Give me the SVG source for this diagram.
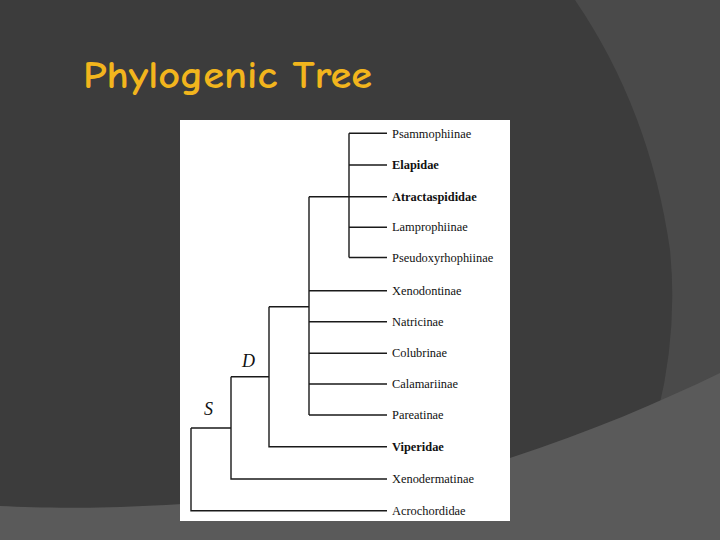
<svg xmlns="http://www.w3.org/2000/svg" width="720" height="540" viewBox="0 0 720 540">
<style>
.lbl{font-family:"Liberation Serif","Times New Roman",serif;font-size:12.4px;fill:#111}
.b{font-weight:bold}
.nd{font-family:"Liberation Serif","Times New Roman",serif;font-style:italic;font-size:18px;fill:#111}
.br{fill:none;stroke:#1a1a1a;stroke-width:1.4}
</style>
<rect width="720" height="540" fill="#3c3c3c"/>
<path d="M575,0 Q650,110 670,250 Q678,330 658,412 L720,412 L720,0 Z" fill="#4a4a4a"/>
<path d="M0,506 C100,511 260,508 510,458 C590,432 660,402 720,373 L720,540 L0,540 Z" fill="#5a5a5a"/>
<text x="83" y="88" font-family="'Comic Neue','DejaVu Sans',sans-serif" font-weight="bold" font-size="38" fill="#f2b51d" textLength="289" lengthAdjust="spacingAndGlyphs">Phylogenic Tree</text>
<rect x="180" y="120" width="330" height="401" fill="#ffffff"/>
<g id="connectors" class="br">
<path d="M349,133.3 V257.5 M349,133.3 H387 M349,165 H387 M349,227.3 H387 M349,257.5 H387"/>
<path d="M309,196.7 H387 M309,196.7 V415 M309,290.7 H387 M309,321.7 H387 M309,353.3 H387 M309,384 H387 M309,415 H387"/>
<path d="M269,306.7 H309 M269,306.7 V446.7 H387"/>
<path d="M231,376.7 H269 M231,376.7 V479 H387"/>
<path d="M191,428 H231 M191,428 V510.7 H387"/>
</g>
<g id="n-psammophiinae"><text class="lbl" x="392" y="137.5">Psammophiinae</text></g>
<g id="n-elapidae"><text class="lbl b" x="392" y="169">Elapidae</text></g>
<g id="n-atractaspididae"><text class="lbl b" x="392" y="200.7">Atractaspididae</text></g>
<g id="n-lamprophiinae"><text class="lbl" x="392" y="231.3">Lamprophiinae</text></g>
<g id="n-pseudoxyrhophiinae"><text class="lbl" x="392" y="261.5">Pseudoxyrhophiinae</text></g>
<g id="n-xenodontinae"><text class="lbl" x="392" y="294.7">Xenodontinae</text></g>
<g id="n-natricinae"><text class="lbl" x="392" y="325.7">Natricinae</text></g>
<g id="n-colubrinae"><text class="lbl" x="392" y="357.3">Colubrinae</text></g>
<g id="n-calamariinae"><text class="lbl" x="392" y="388">Calamariinae</text></g>
<g id="n-pareatinae"><text class="lbl" x="392" y="419">Pareatinae</text></g>
<g id="n-viperidae"><text class="lbl b" x="392" y="450.7">Viperidae</text></g>
<g id="n-xenodermatinae"><text class="lbl" x="392" y="483">Xenodermatinae</text></g>
<g id="n-acrochordidae"><text class="lbl" x="392" y="514.7">Acrochordidae</text></g>
<g id="n-D"><text class="nd" x="242" y="367">D</text></g>
<g id="n-S"><text class="nd" x="204" y="415">S</text></g>
</svg>
